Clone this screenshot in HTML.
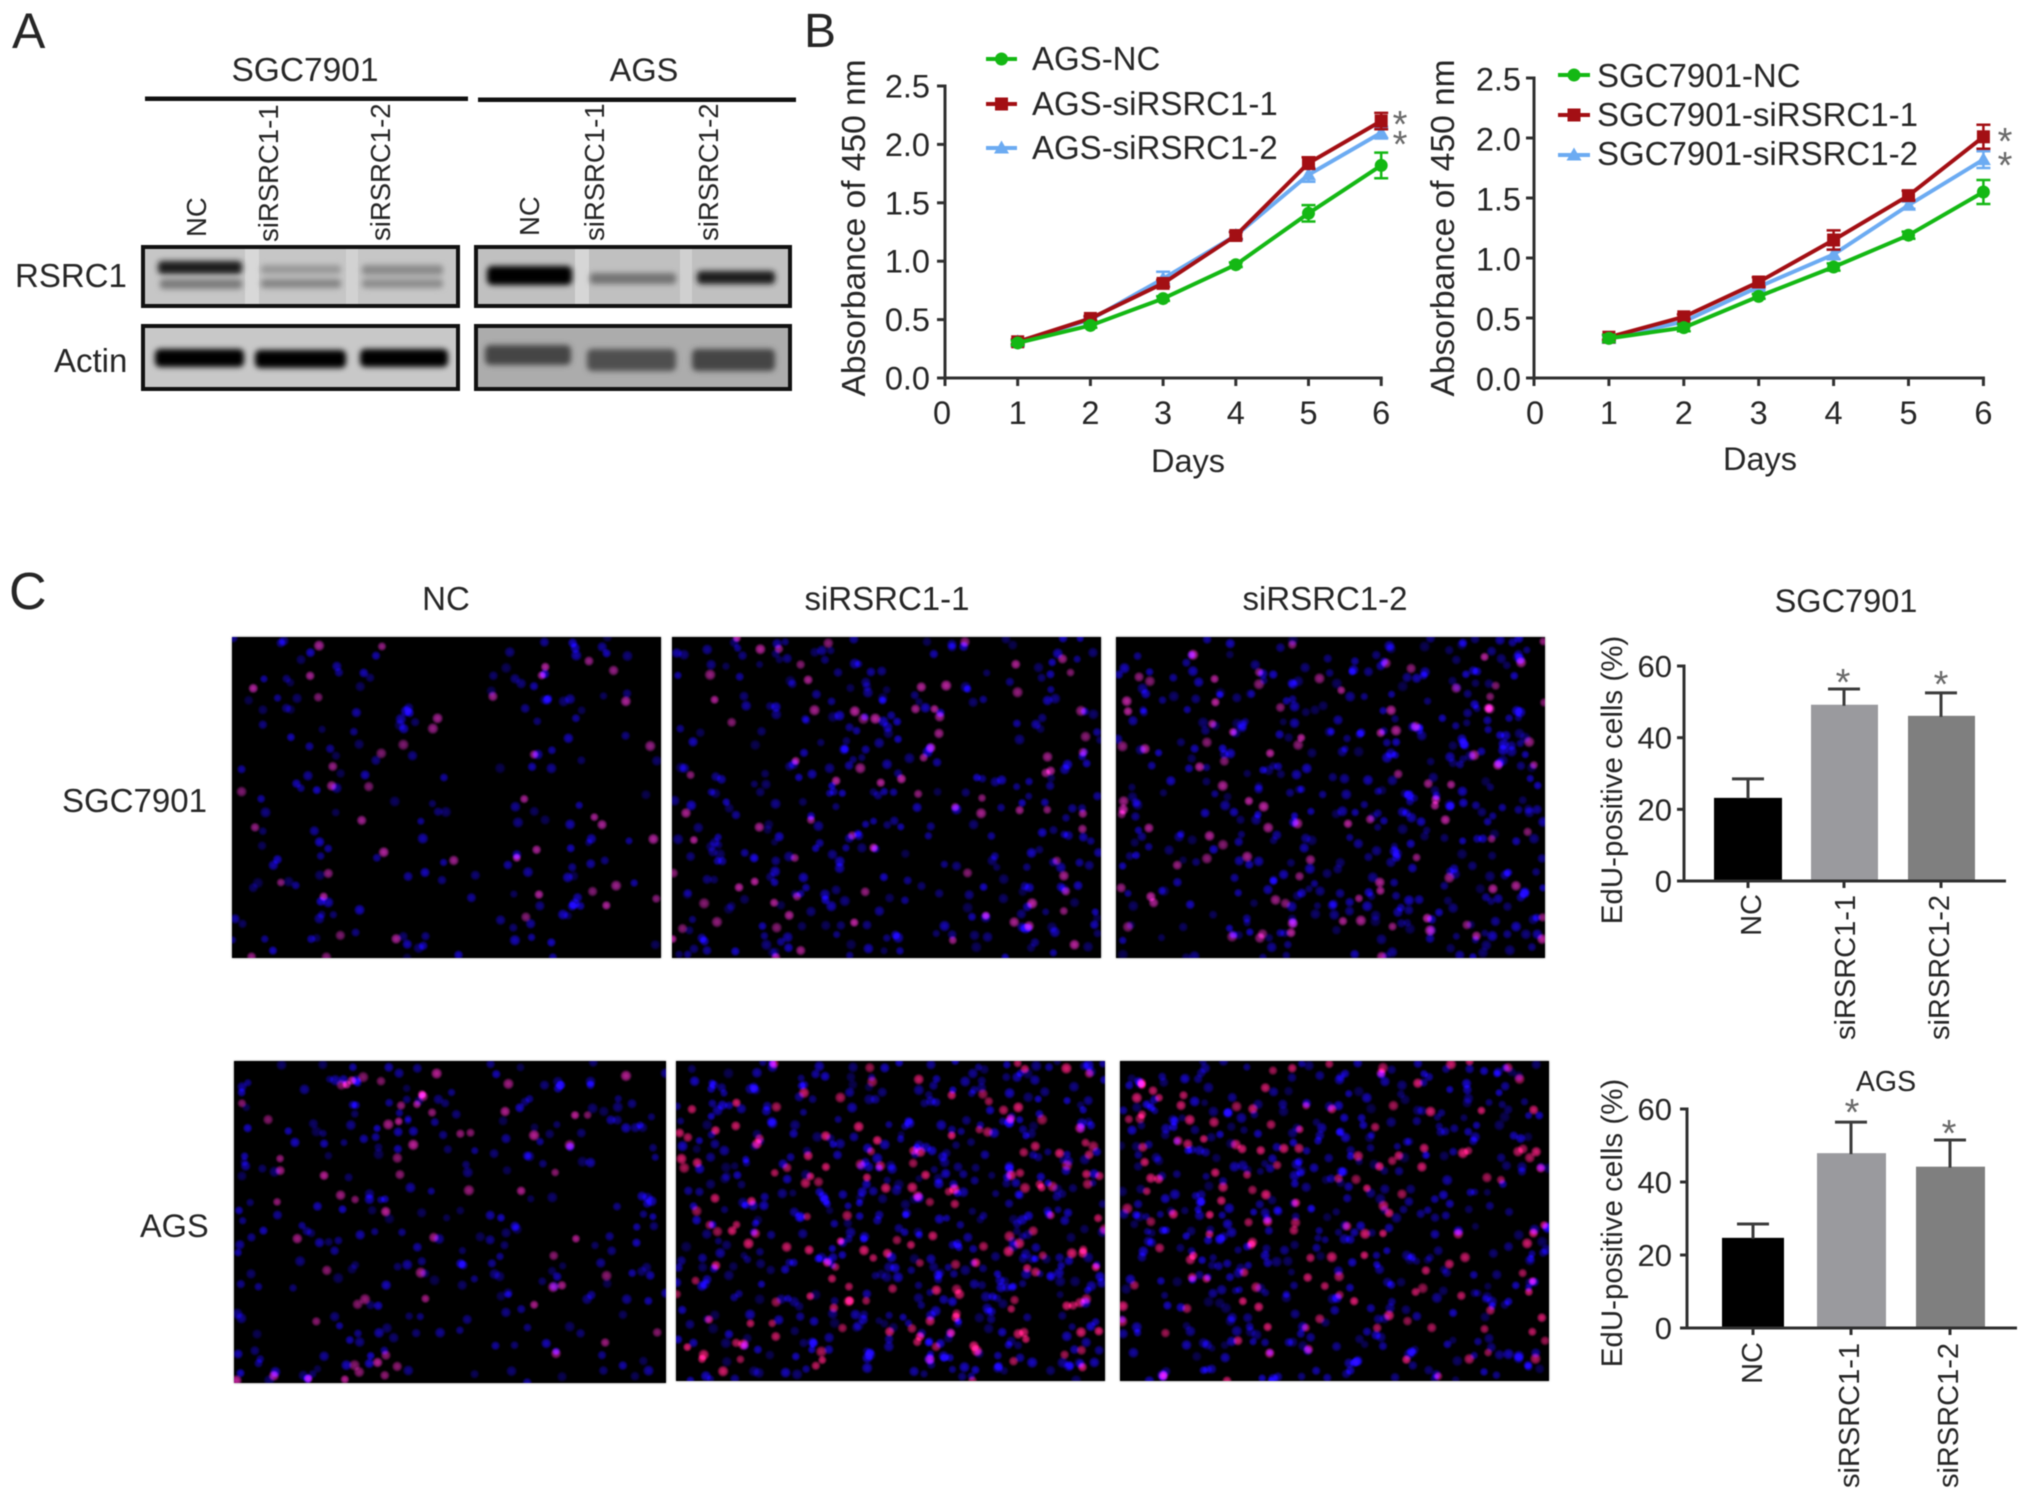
<!DOCTYPE html>
<html lang="en">
<head>
<meta charset="utf-8">
<title>RSRC1 knockdown figure</title>
<style>
html,body{margin:0;padding:0;background:#fff;}
#figure{position:relative;width:2031px;height:1500px;overflow:hidden;background:#fff;font-family:"Liberation Sans",sans-serif;}
#figure svg{position:absolute;left:0;top:0;filter:blur(0.65px);}
#figure svg text{font-family:"Liberation Sans",sans-serif;fill:#262626;}
canvas{position:absolute;background:#000;box-shadow:0 0 2px #888;filter:blur(0.5px);}
</style>
</head>
<body>
<div id="figure">

<canvas id="mg0" width="429" height="321" style="left:232px;top:637px"></canvas>
<canvas id="mg1" width="429" height="321" style="left:672px;top:637px"></canvas>
<canvas id="mg2" width="429" height="321" style="left:1116px;top:637px"></canvas>
<canvas id="mg3" width="432" height="322" style="left:234px;top:1061px"></canvas>
<canvas id="mg4" width="429" height="320" style="left:676px;top:1061px"></canvas>
<canvas id="mg5" width="429" height="320" style="left:1120px;top:1061px"></canvas>

<svg id="art" width="2031" height="1500" viewBox="0 0 2031 1500" xmlns="http://www.w3.org/2000/svg">
  <defs>
    <filter id="soft" x="-20%" y="-100%" width="140%" height="300%"><feGaussianBlur stdDeviation="3"/></filter>
  </defs>

  <!-- Panel letters -->
  <text x="12" y="48" font-size="50">A</text>
  <text x="804" y="47" font-size="48">B</text>
  <text x="9" y="609" font-size="52">C</text>

  <!-- Panel A headers -->
  <text x="305" y="81" font-size="33.500" text-anchor="middle">SGC7901</text>
  <text x="644" y="81" font-size="32.500" text-anchor="middle">AGS</text>
  <rect x="145" y="96.500" width="323" height="4.500" fill="#111"/>
  <rect x="478" y="97.500" width="318" height="4.500" fill="#111"/>

  <g font-size="27.500">
    <text transform="translate(206 237) rotate(-90)">NC</text>
    <text transform="translate(278 242) rotate(-90)">siRSRC1-1</text>
    <text transform="translate(390 241) rotate(-90)">siRSRC1-2</text>
    <text transform="translate(539 236) rotate(-90)">NC</text>
    <text transform="translate(604 241) rotate(-90)">siRSRC1-1</text>
    <text transform="translate(718 241) rotate(-90)">siRSRC1-2</text>
  </g>
  <text x="15" y="287" font-size="33">RSRC1</text>
  <text x="54" y="372" font-size="33">Actin</text>

  <!-- Blot RSRC1 SGC7901 -->
  <g>
    <rect x="143" y="247" width="315" height="59" fill="#c6c6c6"/>
    <rect x="245" y="247" width="14" height="59" fill="#d8d8d8"/>
    <rect x="346" y="247" width="12" height="59" fill="#d2d2d2"/>
    <g filter="url(#soft)">
      <rect x="158" y="261" width="84" height="13" rx="4" fill="#1c1c1c"/>
      <rect x="160" y="279" width="82" height="10" rx="3" fill="#7c7c7c"/>
      <rect x="261" y="265" width="80" height="9" rx="3" fill="#989898"/>
      <rect x="261" y="279" width="80" height="9" rx="3" fill="#858585"/>
      <rect x="362" y="265" width="81" height="10" rx="3" fill="#8a8a8a"/>
      <rect x="362" y="279" width="81" height="9" rx="3" fill="#8c8c8c"/>
    </g>
    <rect x="143" y="247" width="315" height="59" fill="none" stroke="#111" stroke-width="4"/>
  </g>
  <!-- Blot RSRC1 AGS -->
  <g>
    <rect x="476" y="247" width="314" height="59" fill="#c0c0c0"/>
    <rect x="575" y="247" width="14" height="59" fill="#d6d6d6"/>
    <rect x="680" y="247" width="12" height="59" fill="#d0d0d0"/>
    <g filter="url(#soft)">
      <rect x="487" y="266" width="85" height="19" rx="5" fill="#000"/>
      <rect x="590" y="273" width="86" height="11" rx="3" fill="#737373"/>
      <rect x="697" y="271" width="78" height="13" rx="4" fill="#1c1c1c"/>
    </g>
    <rect x="476" y="247" width="314" height="59" fill="none" stroke="#111" stroke-width="4"/>
  </g>
  <!-- Blot Actin SGC7901 -->
  <g>
    <rect x="143" y="326" width="315" height="63" fill="#c8c8c8"/>
    <g filter="url(#soft)">
      <rect x="155" y="349" width="89" height="18" rx="5" fill="#000"/>
      <rect x="255" y="350" width="91" height="18" rx="5" fill="#000"/>
      <rect x="360" y="349" width="88" height="18" rx="5" fill="#060606"/>
    </g>
    <rect x="143" y="326" width="315" height="63" fill="none" stroke="#111" stroke-width="4"/>
  </g>
  <!-- Blot Actin AGS -->
  <g>
    <rect x="476" y="326" width="314" height="63" fill="#acacac"/>
    <g filter="url(#soft)">
      <rect x="485" y="345" width="86" height="20" rx="5" fill="#454545"/>
      <rect x="587" y="349" width="89" height="22" rx="5" fill="#505050"/>
      <rect x="692" y="349" width="83" height="22" rx="5" fill="#444"/>
    </g>
    <rect x="476" y="326" width="314" height="63" fill="none" stroke="#111" stroke-width="4"/>
  </g>

  <!-- Panel C titles -->
  <g font-size="33" text-anchor="middle">
    <text x="446" y="610">NC</text>
    <text x="887" y="610">siRSRC1-1</text>
    <text x="1325" y="610">siRSRC1-2</text>
  </g>
  <text x="62" y="812" font-size="33">SGC7901</text>
  <text x="140" y="1237" font-size="32.500">AGS</text>

  <g id="charts"></g>
</svg>
</div>

<script>
/* ---------- Chart data ---------- */
const days = [1, 2, 3, 4, 5, 6];
const lineXTickLabels = ['0', '1', '2', '3', '4', '5', '6'];
const lineYTickValues = [0, 0.5, 1, 1.5, 2, 2.5];
const lineYTickLabels = ['0.0', '0.5', '1.0', '1.5', '2.0', '2.5'];

const agsLegend = ['AGS-NC', 'AGS-siRSRC1-1', 'AGS-siRSRC1-2'];
const agsNC = [0.30, 0.45, 0.68, 0.97, 1.41, 1.82];
const agsSi1 = [0.31, 0.51, 0.81, 1.22, 1.84, 2.20];
const agsSi2 = [0.31, 0.50, 0.85, 1.22, 1.74, 2.10];
const agsNCErr = [0.02, 0.02, 0.02, 0.02, 0.07, 0.11];
const agsSi1Err = [0.02, 0.02, 0.03, 0.03, 0.05, 0.07];
const agsSi2Err = [0.02, 0.02, 0.06, 0.03, 0.06, 0.05];

const sgcLegend = ['SGC7901-NC', 'SGC7901-siRSRC1-1', 'SGC7901-siRSRC1-2'];
const sgcNC = [0.33, 0.42, 0.68, 0.925, 1.19, 1.55];
const sgcSi1 = [0.34, 0.51, 0.80, 1.15, 1.52, 2.01];
const sgcSi2 = [0.33, 0.47, 0.76, 1.03, 1.44, 1.82];
const sgcNCErr = [0.03, 0.03, 0.02, 0.03, 0.03, 0.10];
const sgcSi1Err = [0.02, 0.02, 0.04, 0.08, 0.04, 0.10];
const sgcSi2Err = [0.02, 0.02, 0.02, 0.04, 0.03, 0.07];

const barCategories = ['NC', 'siRSRC1-1', 'siRSRC1-2'];
const barYTicks = [0, 20, 40, 60];
const sgcBarValues = [23.2, 49.2, 46.1];
const sgcBarUpper = [28.5, 53.6, 52.5];
const agsBarValues = [24.7, 47.9, 44.2];
const agsBarUpper = [28.5, 56.4, 51.5];

/* ---------- Micrograph density grids: cells per 8x6 block, hand-counted ---------- */
const mgBlue = [
  ['35301651','34261452','17320412','33050341','35132361','44251731'],
  ['35662435','24375234','43575235','55364235','65534366','55553565'],
  ['34455687','46576676','45666777','53647777','42666677','33666777'],
  ['43763553','35563646','51633205','46356445','33324633','64722433'],
  ['76565676','65467675','55677786','65656785','54567768','54646666'],
  ['76456656','76667656','67676552','57757536','46544464','46657555']
];
const mgPink = [
  ['12100211','01021001','12210101','10100221','12101212','11110110'],
  ['13301212','11134012','10134013','21120322','23210113','32210222'],
  ['22221223','23121332','22210222','42312212','32233112','10323322'],
  ['11460201','20132130','22211200','02020110','01210220','21610111'],
  ['13131342','53353346','32534365','34444375','33343424','44325445'],
  ['52442333','55533424','54314212','23544134','33433423','21221333']
];
const mgPinkColor = [[195,40,175],[205,40,175],[205,40,175],[205,35,165],[240,30,120],[240,30,125]];
const mgBlueDensity = [1.2, 1.5, 1.5, 1.3, 1.8, 1.8];

/* ---------- SVG helpers ---------- */
const NS = 'http://www.w3.org/2000/svg';
const chartsRoot = document.getElementById('charts');
function svgEl(tag, parent, attrs, txt) {
  const n = document.createElementNS(NS, tag);
  for (const k in attrs) n.setAttribute(k, attrs[k]);
  if (txt !== undefined) n.textContent = txt;
  parent.appendChild(n);
  return n;
}

const GREEN = '#14b814', RED = '#a30f14', BLUE = '#6cabf2', AXIS = '#303030';

function drawMarker(parent, kind, x, y, color) {
  let el;
  if (kind === 'circle') el = svgEl('circle', parent, {cx: x, cy: y, r: 6.500, fill: color});
  else if (kind === 'square') el = svgEl('rect', parent, {x: x - 6.500, y: y - 6.500, width: 13, height: 13, fill: color});
  else el = svgEl('polygon', parent, {points: [x, y - 7.500, x + 7.500, y + 5.500, x - 7.500, y + 5.500].join(' ') , fill: color});
  
  
}

function drawLineChart(cfg) {
  const g = svgEl('g', chartsRoot, {});
  
  
  const xAt = d => cfg.x0 + d * cfg.xStep;
  const yAt = v => cfg.y0 - v * cfg.yStep;

  const yAxis = svgEl('line', g, {x1: cfg.x0, x2: cfg.x0, y1: yAt(2.5) - 1.500, y2: cfg.y0 + 1.500, stroke: AXIS, 'stroke-width': 3});
  
  
  const xAxis = svgEl('line', g, {x1: cfg.x0, x2: xAt(6) + 1.500, y1: cfg.y0, y2: cfg.y0, stroke: AXIS, 'stroke-width': 3});
  
  

  lineYTickValues.forEach((v, i) => {
    const t = svgEl('line', g, {x1: cfg.x0 - 8, x2: cfg.x0, y1: yAt(v), y2: yAt(v), stroke: AXIS, 'stroke-width': 3});
    
    
    const l = svgEl('text', g, {x: cfg.yLabelX, y: yAt(v) + cfg.yLabelDy, 'font-size': 32.500, 'text-anchor': 'end'}, lineYTickLabels[i]);
    
    
  });
  lineXTickLabels.forEach((lab, i) => {
    const t = svgEl('line', g, {x1: xAt(i), x2: xAt(i), y1: cfg.y0, y2: cfg.y0 + 8, stroke: AXIS, 'stroke-width': 3});
    
    
    const l = svgEl('text', g, {x: xAt(i) + (i === 0 ? cfg.zeroDx : 0), y: 424, 'font-size': 32.500, 'text-anchor': 'middle'}, lab);
    
    
  });

  const xt = svgEl('text', g, {x: cfg.xTitleX, y: cfg.xTitleY, 'font-size': 32.500, 'text-anchor': 'middle'}, 'Days');
  
  
  const yt = svgEl('text', g, {transform: 'translate(' + cfg.yTitleX + ' 228) rotate(-90)', 'font-size': 33.500, 'text-anchor': 'middle'}, 'Absorbance of 450 nm');
  
  

  // draw order: blue, red, green (green sits on top at day 1)
  [2, 1, 0].forEach(si => {
    const s = cfg.series[si];
    const sg = svgEl('g', g, {});
    
    
    const pts = days.map((d, i) => xAt(d) + ',' + yAt(s.values[i])).join(' ');
    const pl = svgEl('polyline', sg, {points: pts, fill: 'none', stroke: s.color, 'stroke-width': 4, 'stroke-linejoin': 'round'});
    
    
    days.forEach((d, i) => {
      const x = xAt(d), hi = yAt(s.values[i] + s.errors[i]), lo = yAt(s.values[i] - s.errors[i]);
      const eb = svgEl('path', sg, {d: 'M' + x + ' ' + lo + 'V' + hi + 'M' + (x - 7) + ' ' + hi + 'H' + (x + 7) + 'M' + (x - 7) + ' ' + lo + 'H' + (x + 7), stroke: s.color, 'stroke-width': 2.500, fill: 'none'});
      
      
      drawMarker(sg, s.marker, x, yAt(s.values[i]), s.color);
    });
  });

  cfg.series.forEach((s, i) => {
    const ly = cfg.legendLineY[i];
    const lg = svgEl('g', g, {});
    
    
    const ll = svgEl('line', lg, {x1: cfg.legendX1, x2: cfg.legendX2, y1: ly, y2: ly, stroke: s.color, 'stroke-width': 4});
    
    
    drawMarker(lg, s.marker, (cfg.legendX1 + cfg.legendX2) / 2, ly, s.color);
    const lt = svgEl('text', lg, {x: cfg.legendTextX, y: cfg.legendBaseY[i], 'font-size': 33}, cfg.legend[i]);
    
    
  });

  cfg.stars.forEach(st => {
    const a = svgEl('text', g, {x: st[0], y: st[1] + 20, 'font-size': 38, 'text-anchor': 'middle', style: 'fill:#6a6a6a'}, '*');
    
    
  });
}

function drawBarChart(cfg) {
  const g = svgEl('g', chartsRoot, {});
  
  
  const yAt = v => cfg.y0 - v * cfg.yStep;
  const barFill = ['#000000', '#9a9a9e', '#7f7f7f'];

  cfg.values.forEach((v, i) => {
    const b = svgEl('rect', g, {x: cfg.barX[i], y: yAt(v), width: cfg.barW[i], height: cfg.y0 - yAt(v), fill: barFill[i]});
    
    
    const cx = cfg.stemX[i], top = yAt(cfg.upper[i]);
    const e = svgEl('path', g, {d: 'M' + cx + ' ' + (yAt(v) + 1) + 'V' + top + 'M' + (cx - 16) + ' ' + top + 'H' + (cx + 16), stroke: '#3c3c3c', 'stroke-width': 3, fill: 'none'});
    
    
    const t = svgEl('line', g, {x1: cx, x2: cx, y1: cfg.y0, y2: cfg.y0 + 7, stroke: AXIS, 'stroke-width': 3});
    
    
    const l = svgEl('text', g, {transform: 'translate(' + cfg.labelX[i] + ' ' + cfg.labelTop[i] + ') rotate(-90)', 'font-size': 29, 'text-anchor': 'end'}, barCategories[i]);
    
    
  });

  const ax = svgEl('line', g, {x1: cfg.x0, x2: cfg.x0, y1: yAt(60) - 1.500, y2: cfg.y0, stroke: AXIS, 'stroke-width': 3});
  
  
  const ax2 = svgEl('line', g, {x1: cfg.x0, x2: cfg.xEnd, y1: cfg.y0, y2: cfg.y0, stroke: AXIS, 'stroke-width': 3});
  
  

  barYTicks.forEach(v => {
    const t = svgEl('line', g, {x1: cfg.x0 - 7, x2: cfg.x0, y1: yAt(v), y2: yAt(v), stroke: AXIS, 'stroke-width': 3});
    
    
    const l = svgEl('text', g, {x: 1672, y: yAt(v) + 11, 'font-size': 31, 'text-anchor': 'end'}, String(v));
    
    
  });

  const yt = svgEl('text', g, {transform: 'translate(1622 ' + cfg.yTitleMid + ') rotate(-90)', 'font-size': 29.500, 'text-anchor': 'middle'}, 'EdU-positive cells (%)');
  
  
  const tt = svgEl('text', g, {x: cfg.titleX, y: cfg.titleY, 'font-size': cfg.titleSize, 'text-anchor': 'middle'}, cfg.title);
  
  

  cfg.stars.forEach(st => {
    const a = svgEl('text', g, {x: st[0], y: st[1] + 18, 'font-size': 38, 'text-anchor': 'middle', style: 'fill:#6a6a6a'}, '*');
    
    
  });
}

drawLineChart({
  name: 'line-chart-ags', x0: 945, xStep: 72.700, y0: 378, yStep: 116.800, yLabelX: 930, yLabelDy: 11.500, zeroDx: -3,
  xTitleX: 1188, xTitleY: 472, yTitleX: 865,
  legend: agsLegend, legendX1: 986, legendX2: 1017, legendTextX: 1032,
  legendLineY: [59, 104, 148], legendBaseY: [70, 115, 159],
  stars: [[1400, 117], [1400, 137]],
  series: [
    {key: 'nc', values: agsNC, errors: agsNCErr, color: GREEN, marker: 'circle'},
    {key: 'si1', values: agsSi1, errors: agsSi1Err, color: RED, marker: 'square'},
    {key: 'si2', values: agsSi2, errors: agsSi2Err, color: BLUE, marker: 'triangle'}
  ]
});
drawLineChart({
  name: 'line-chart-sgc7901', x0: 1534, xStep: 74.900, y0: 378, yStep: 120, yLabelX: 1521, yLabelDy: 12.500, zeroDx: 1,
  xTitleX: 1760, xTitleY: 470, yTitleX: 1454,
  legend: sgcLegend, legendX1: 1558, legendX2: 1590, legendTextX: 1597,
  legendLineY: [75, 115, 155], legendBaseY: [87, 126, 165],
  stars: [[2005, 134], [2005, 158]],
  series: [
    {key: 'nc', values: sgcNC, errors: sgcNCErr, color: GREEN, marker: 'circle'},
    {key: 'si1', values: sgcSi1, errors: sgcSi1Err, color: RED, marker: 'square'},
    {key: 'si2', values: sgcSi2, errors: sgcSi2Err, color: BLUE, marker: 'triangle'}
  ]
});
drawBarChart({
  name: 'bar-chart-sgc7901', x0: 1684, xEnd: 2006, y0: 881, yStep: 3.583,
  values: sgcBarValues, upper: sgcBarUpper,
  barX: [1714, 1811, 1908], barW: [68, 67, 67], stemX: [1748, 1844, 1941],
  labelX: [1761, 1855, 1949], labelTop: [894, 895, 895],
  yTitleMid: 780, title: 'SGC7901', titleX: 1846, titleY: 612, titleSize: 32.500,
  stars: [[1843, 677], [1941, 679]]
});
drawBarChart({
  name: 'bar-chart-ags', x0: 1687, xEnd: 2017, y0: 1328, yStep: 3.650,
  values: agsBarValues, upper: agsBarUpper,
  barX: [1722, 1817, 1916], barW: [62, 69, 69], stemX: [1753, 1851, 1950],
  labelX: [1762, 1859, 1958], labelTop: [1342, 1343, 1343],
  yTitleMid: 1223, title: 'AGS', titleX: 1886, titleY: 1091, titleSize: 28.500,
  stars: [[1852, 1107], [1949, 1128]]
});

/* ---------- Micrographs: photo texture, not chart data.
   Cell counts above are hand-estimated; positions inside a cell use a seeded scatter. ---------- */
function paintMicrograph(index) {
  const cv = document.getElementById('mg' + index);
  const ctx = cv.getContext('2d');
  ctx.fillStyle = '#000';
  ctx.fillRect(0, 0, cv.width, cv.height);
  ctx.globalCompositeOperation = 'lighter';
  let state = 12345 + index * 7919;
  const next = () => { state = (state * 1664525 + 1013904223) % 4294967296; return state / 4294967296; };
  const cw = cv.width / 8, ch = cv.height / 6;
  const dot = (x, y, r, c, a) => {
    const gr = ctx.createRadialGradient(x, y, 0, x, y, r);
    gr.addColorStop(0, 'rgba(' + c + ',' + a + ')');
    gr.addColorStop(0.55, 'rgba(' + c + ',' + a * 0.75 + ')');
    gr.addColorStop(1, 'rgba(' + c + ',0)');
    ctx.fillStyle = gr;
    ctx.beginPath();
    ctx.arc(x, y, r, 0, 6.2832);
    ctx.fill();
  };
  for (let r = 0; r < 6; r++) {
    for (let c = 0; c < 8; c++) {
      const nb = Math.round(+mgBlue[index][r][c] * mgBlueDensity[index]), np = +mgPink[index][r][c];
      for (let k = 0; k < nb; k++) {
        dot((c + next()) * cw, (r + next()) * ch, 4.500 + next() * 1.800, [28, 8, 235], 0.35 + next() * 0.5);
      }
      for (let k = 0; k < np; k++) {
        dot((c + next()) * cw, (r + next()) * ch, 4.800 + next() * 1.500, mgPinkColor[index], 0.65 + next() * 0.3);
      }
    }
  }
}
for (let i = 0; i < 6; i++) paintMicrograph(i);
</script>
</body>
</html>
